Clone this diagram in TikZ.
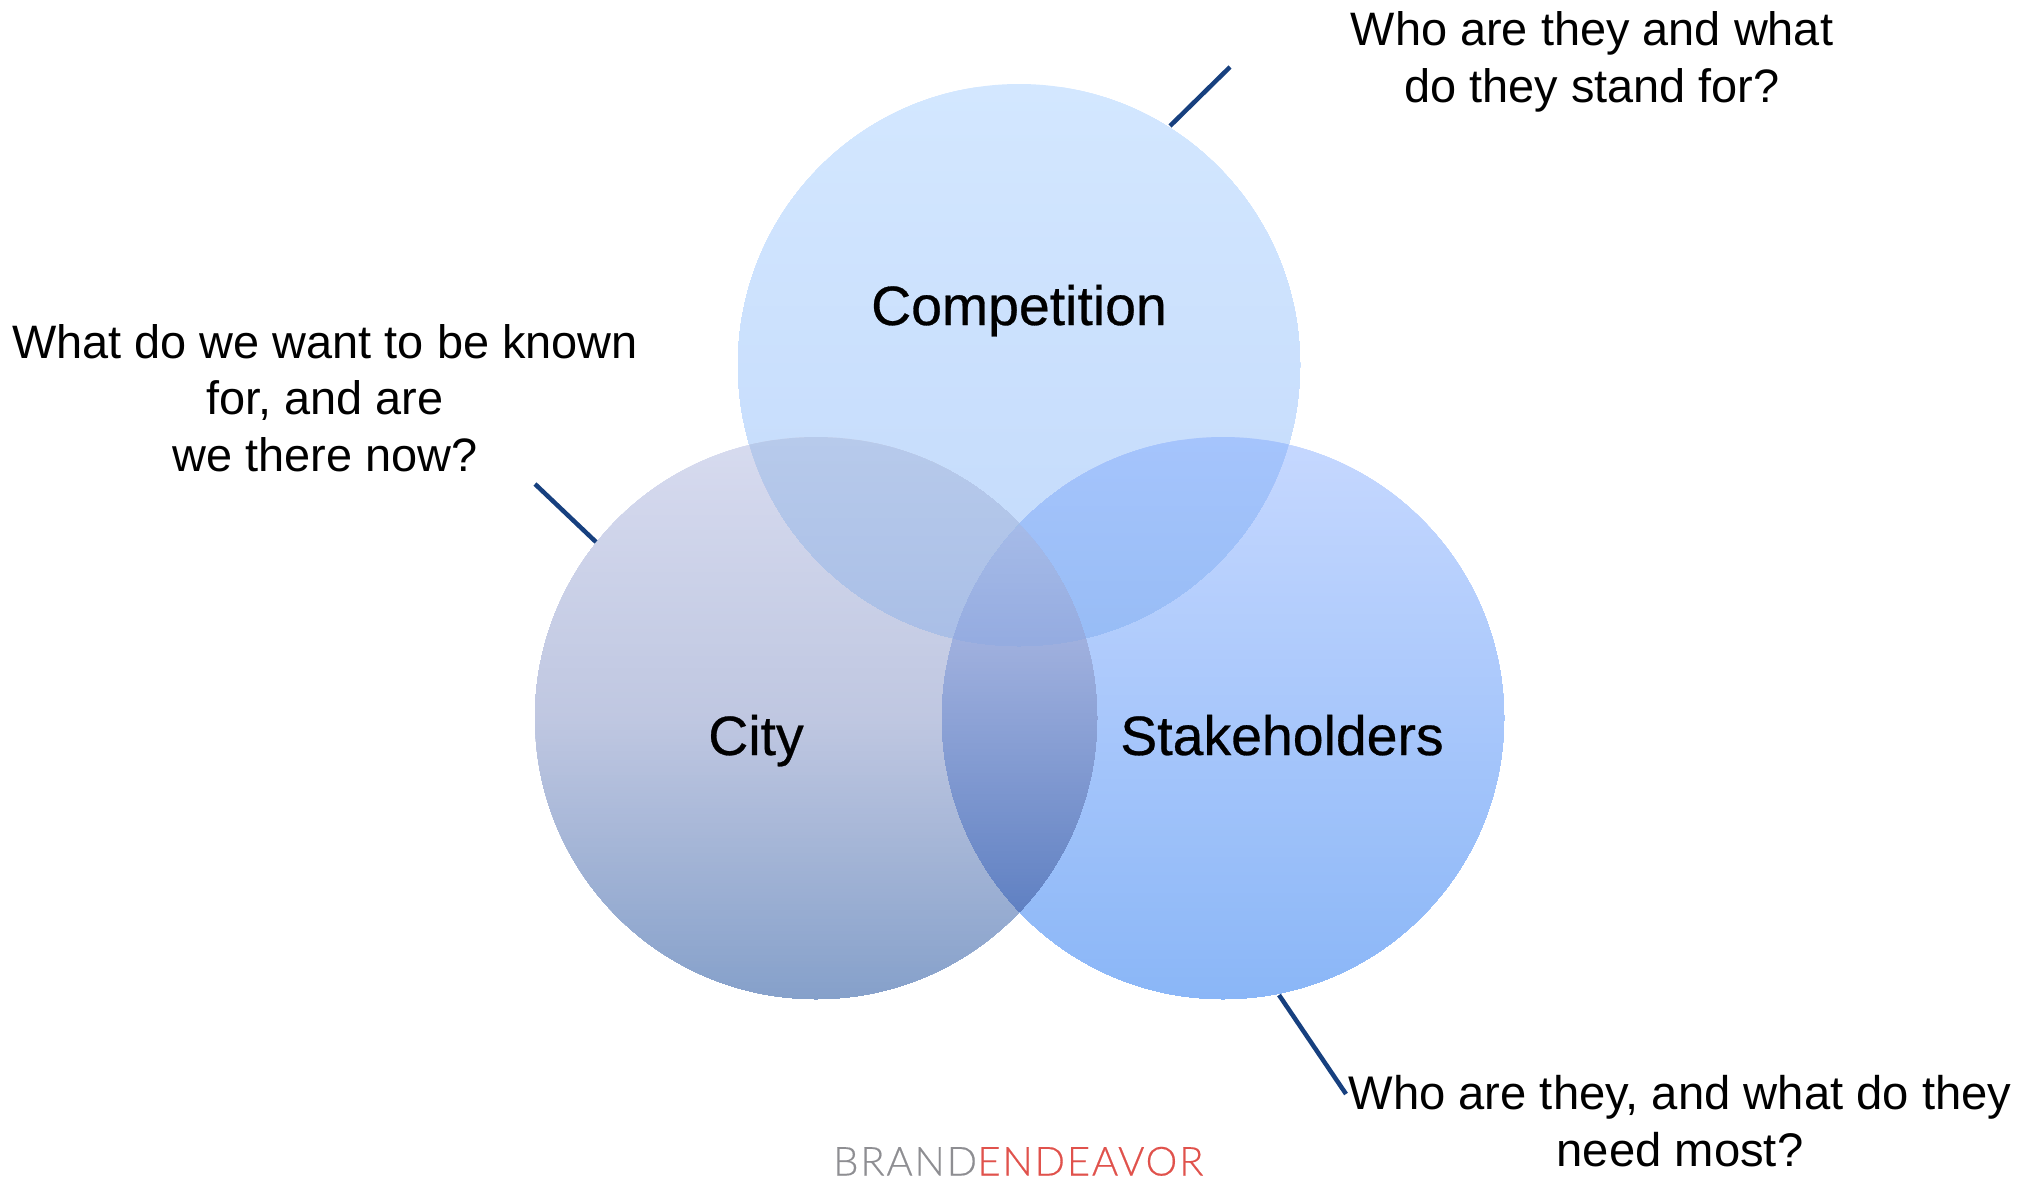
\documentclass[tikz,border=0pt]{standalone}
\usepackage{fontspec}
\setmainfont{Liberation Sans}
\newfontface\labelface[FakeBold=0.5]{Liberation Sans}
\newfontface\logofont[LetterSpace=4.7,FakeBold=0.4]{Lato Light}
\definecolor{linecol}{HTML}{17407F}
\definecolor{logogray}{HTML}{8E8E92}
\definecolor{logored}{HTML}{E0524C}
\definecolor{compT}{HTML}{D3E7FF}\definecolor{compB}{HTML}{C2D9FB}
\definecolor{cityT}{HTML}{D7DBEF}\definecolor{cityM}{HTML}{BFC7E1}\definecolor{cityB}{HTML}{85A0CA}
\definecolor{stakeT}{HTML}{C6D8FF}\definecolor{stakeB}{HTML}{8AB6F7}
\definecolor{ccT}{HTML}{B7CAEB}\definecolor{ccB}{HTML}{A9BEE6}
\definecolor{csT}{HTML}{A5C4FC}\definecolor{csB}{HTML}{97BCF5}
\definecolor{lensT}{HTML}{ABB9E3}\definecolor{lensB}{HTML}{5F80C2}
\definecolor{triT}{HTML}{A6BBE8}\definecolor{triB}{HTML}{94ABE0}
\tikzset{
  question/.style={align=center,inner sep=0pt,font=\fontsize{46.9}{56.5}\selectfont,text=black},
  circlelabel/.style={anchor=base,inner sep=0pt,font=\labelface\fontsize{55.4}{60}\selectfont,text=black},
  logotext/.style={inner sep=0pt,font=\logofont\fontsize{40}{40}\selectfont},
  leader/.style={draw=linecol,line width=4.5pt},
}
\def\compC{(1019,365) circle [radius=281]}
\def\cityC{(816,718) circle [radius=281]}
\def\stakeC{(1223,718) circle [radius=281]}
% vertical gradient painted as plain bands, each band running on to the bottom
\newcommand{\vbands}[6]{% x0,x1,y0,y1,top colour,bottom colour
  \pgfmathtruncatemacro{\ysec}{#3+3}
  \foreach \yy in {#3,\ysec,...,#4}{
    \pgfmathsetmacro{\pc}{(\yy-#3)/(#4-#3)*100}
    \colorlet{bandcol}{#6!\pc!#5}
    \fill[bandcol] (#1,\yy) rectangle (#2,#4+1);
  }}
\begin{document}
\begin{tikzpicture}[x=1pt,y=-1pt]
\useasboundingbox (0,0) rectangle (2030,1178);
% base circles
\begin{scope}\clip \compC;
  \vbands{730}{1310}{84}{647}{compT}{compB}
\end{scope}
\begin{scope}\clip \cityC;
  \vbands{530}{1100}{437}{718}{cityT}{cityM}
  \vbands{530}{1100}{718}{999}{cityM}{cityB}
\end{scope}
\begin{scope}\clip \stakeC;
  \vbands{940}{1510}{437}{999}{stakeT}{stakeB}
\end{scope}
% overlaps
\begin{scope}\clip \compC; \clip \cityC;
  \vbands{730}{1100}{437}{647}{ccT}{ccB}
\end{scope}
\begin{scope}\clip \compC; \clip \stakeC;
  \vbands{940}{1310}{437}{647}{csT}{csB}
\end{scope}
\begin{scope}\clip \cityC; \clip \stakeC;
  \vbands{940}{1100}{590}{915}{lensT}{lensB}
\end{scope}
\begin{scope}\clip \compC; \clip \cityC; \clip \stakeC;
  \vbands{940}{1100}{520}{647}{triT}{triB}
\end{scope}
% labels in circles
\node[circlelabel] (competition) at (1019,325) {Competition};
\node[circlelabel] (city) at (756,755) {City};
\node[circlelabel] (stakeholders) at (1282,755) {Stakeholders};
% questions
\node[question] (q1) at (1592,62) {Who are they and what\\do they stand for?};
\node[question] (q2) at (325,398) {What do we want to be known\\for, and are\\we there now?};
\node[question,font=\fontsize{47.2}{56.5}\selectfont] (q3) at (1680,1121) {Who are they, and what do they\\need most?};
% leaders
\coordinate (a1) at (1230,67); \coordinate (b1) at (1170,126);
\coordinate (a2) at (535,484); \coordinate (b2) at (596,542);
\coordinate (a3) at (1279,995); \coordinate (b3) at (1346,1094);
\draw[leader] (a1) -- (b1);
\draw[leader] (a2) -- (b2);
\draw[leader] (a3) -- (b3);
% logo
\node[logotext,anchor=base west,text=logogray] (brand) at (833,1175.5) {BRAND};
\node[logotext,anchor=base west,text=logored] (endeavor) at (brand.base east) {ENDEAVOR};
\end{tikzpicture}
\end{document}
